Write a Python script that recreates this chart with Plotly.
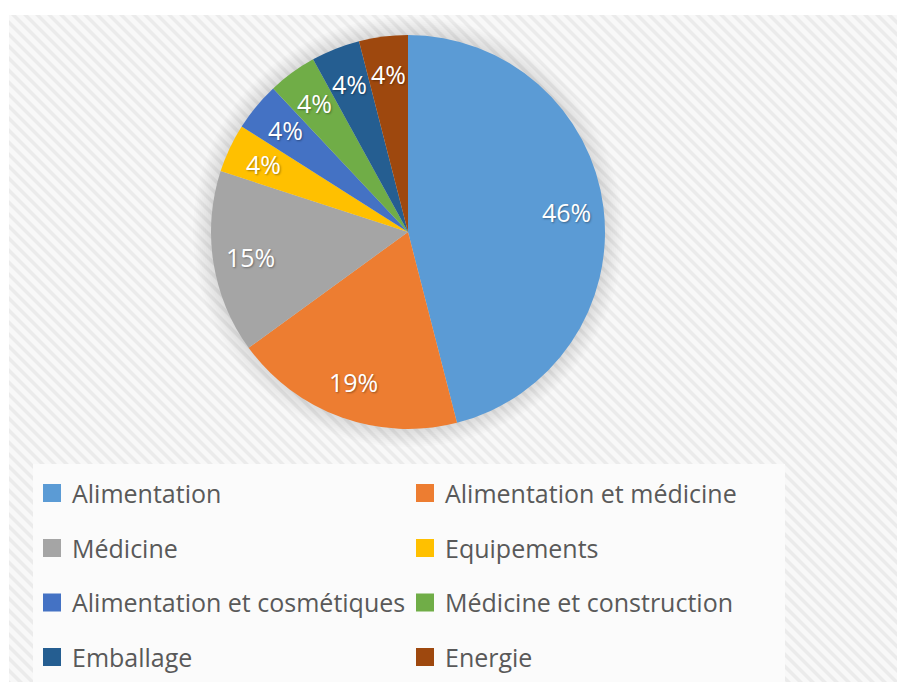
import math
import plotly.graph_objects as go

categories = ["Alimentation", "Alimentation et médicine", "Médicine", "Equipements",
              "Alimentation et cosmétiques", "Médicine et construction", "Emballage", "Energie"]
shares = [46, 19, 15, 4, 4, 4, 4, 4]
colors = ["#5B9BD5", "#ED7D31", "#A5A5A5", "#FFC000",
          "#4472C4", "#70AD47", "#255E91", "#9E480E"]

# page offset (browser body margin) and figure size
OX, OY = 8, 8
W, H = 905 - OX, 682 - OY
cx, cy, R = 408, 232, 197          # pie centre / radius in window pixels
LABEL_R = 0.81                     # label distance as a fraction of radius


def px(x):
    return (x - OX) / W


def py(y):
    return 1 - (y - OY) / H


def dom(r):
    return dict(x=[px(cx - r), px(cx + r)], y=[py(cy + r), py(cy - r)])


fig = go.Figure()

# soft shadow halo behind the pie
for j in range(9):
    k = 18 - 2 * j
    fig.add_trace(go.Pie(values=[1], labels=[f"shadow{j}"], domain=dom(R + k),
                         marker=dict(colors=["rgba(0,0,0,0.013)"], line=dict(width=0)),
                         textinfo="none", hoverinfo="skip", showlegend=False, sort=False))

fig.add_trace(go.Pie(
    labels=categories, values=shares, domain=dom(R), sort=False,
    direction="clockwise", rotation=0,
    marker=dict(colors=colors, line=dict(width=0)),
    textinfo="none", showlegend=False, hoverinfo="label+percent",
))

# percentage labels placed along each slice's mid-angle
total = sum(shares)
annotations = []
acc = 0
for v in shares:
    mid = 2 * math.pi * (acc + v / 2) / total
    acc += v
    lx = cx + LABEL_R * R * math.sin(mid)
    ly = cy - LABEL_R * R * math.cos(mid)
    annotations.append(dict(
        x=px(lx), y=py(ly), xref="paper", yref="paper", showarrow=False,
        text=f"{round(100 * v / total)}%",
        font=dict(family="Open Sans", size=25, color="white",
                  shadow="1px 1px 2px rgba(0,0,0,0.35)"),
        xanchor="center", yanchor="middle",
    ))

row_centers = [493, 548, 602.5, 657]
legend_names = ["legend", "legend2", "legend3", "legend4"]
for i, (cat, col) in enumerate(zip(categories, colors)):
    fig.add_trace(go.Scatter(
        x=[None], y=[None], mode="markers", name=cat,
        marker=dict(symbol="square", size=16, color=col, line=dict(width=2, color=col)),
        legend=legend_names[i // 2], hoverinfo="skip",
    ))

legend_layout = {}
for name, yc in zip(legend_names, row_centers):
    legend_layout[name] = dict(
        orientation="h", x=px(32), xanchor="left",
        y=py(yc - 22.75), yanchor="top",
        entrywidth=328, entrywidthmode="pixels",
        font=dict(family="Open Sans", size=25, color="#595959"),
        bgcolor="rgba(0,0,0,0)", borderwidth=0,
        itemclick=False, itemdoubleclick=False,
    )

# diagonal stripe texture for the chart panel
period, sw = 12, 5
path = []
for s in range(-700, 920, period):
    pts = [(s, 0), (s + sw, 0), (s + sw + 700, 700), (s + 700, 700)]
    path.append("M" + "L".join(f"{px(x):.5f},{py(y):.5f}" for x, y in pts) + "Z")

shapes = [
    dict(type="rect", xref="paper", yref="paper", x0=0, x1=1, y0=0, y1=1,
         fillcolor="#f8f8f8", line=dict(width=0), layer="below"),
    dict(type="path", xref="paper", yref="paper", path="".join(path),
         fillcolor="#ebebeb", line=dict(width=0), layer="below"),
    # white outer margins (top and left)
    dict(type="rect", xref="paper", yref="paper", x0=0, x1=1, y0=py(15), y1=1.05,
         fillcolor="white", line=dict(width=0), layer="below"),
    dict(type="rect", xref="paper", yref="paper", x0=-0.05, x1=px(9), y0=-0.05, y1=1.05,
         fillcolor="white", line=dict(width=0), layer="below"),
    # legend box
    dict(type="rect", xref="paper", yref="paper", x0=px(33), x1=px(785), y0=-0.05, y1=py(464),
         fillcolor="#fbfbfb", line=dict(width=0), layer="below"),
]

fig.update_layout(
    width=W, height=H,
    margin=dict(l=0, r=0, t=0, b=0),
    paper_bgcolor="white", plot_bgcolor="rgba(0,0,0,0)",
    xaxis=dict(visible=False), yaxis=dict(visible=False),
    shapes=shapes, annotations=annotations,
    **legend_layout,
)

fig.write_html("out.html")
